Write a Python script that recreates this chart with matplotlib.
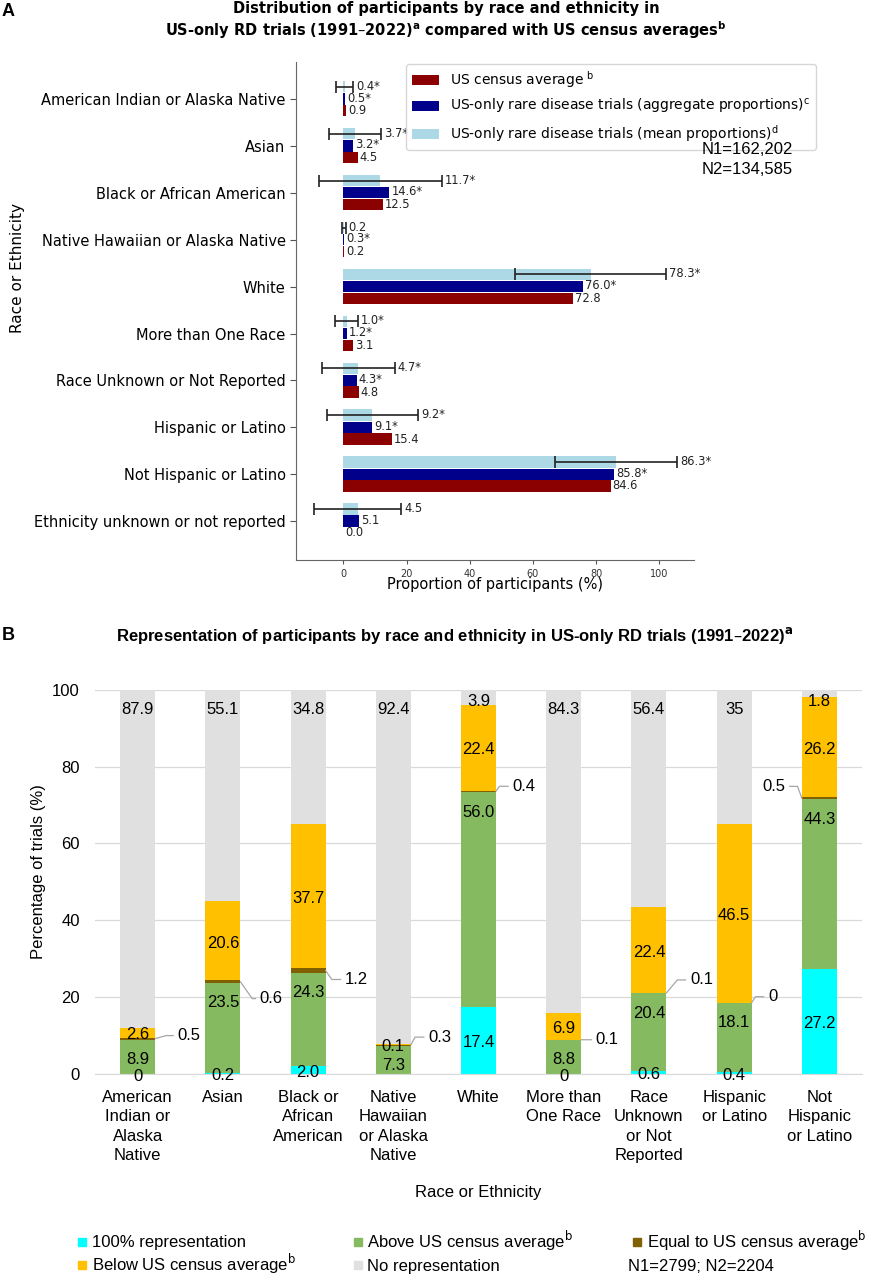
import matplotlib
matplotlib.use("Agg")
from matplotlib import pyplot as plt
from matplotlib.patches import Rectangle
import numpy as np

# ---- panel A data ----
groups_a = ["American Indian or Alaska Native", "Asian", "Black or African American",
            "Native Hawaiian or Alaska Native", "White", "More than One Race",
            "Race Unknown or Not Reported", "Hispanic or Latino",
            "Not Hispanic or Latino", "Ethnicity unknown or not reported"]
census = [0.9, 4.5, 12.5, 0.2, 72.8, 3.1, 4.8, 15.4, 84.6, 0.0]
aggregate = [0.5, 3.2, 14.6, 0.3, 76.0, 1.2, 4.3, 9.1, 85.8, 5.1]
mean_prop = [0.4, 3.7, 11.7, 0.2, 78.3, 1.0, 4.7, 9.2, 86.3, 4.5]
mean_sd = [2.7, 8.2, 19.5, 0.5, 23.9, 3.7, 11.5, 14.4, 19.3, 13.8]
aggregate_sig = [1, 1, 1, 1, 1, 1, 1, 1, 1, 0]
mean_sig = [1, 1, 1, 0, 1, 1, 1, 1, 1, 0]

# ---- panel B data ----
groups_b = ["American\nIndian or\nAlaska\nNative", "Asian", "Black or\nAfrican\nAmerican",
            "Native\nHawaiian\nor Alaska\nNative", "White", "More than\nOne Race",
            "Race\nUnknown\nor Not\nReported", "Hispanic\nor Latino", "Not\nHispanic\nor Latino"]
full_rep = [0, 0.2, 2.0, 0, 17.4, 0, 0.6, 0.4, 27.2]
above = [8.9, 23.5, 24.3, 7.3, 56.0, 8.8, 20.4, 18.1, 44.3]
equal = [0.5, 0.6, 1.2, 0.3, 0.4, 0.1, 0.1, 0, 0.5]
below = [2.6, 20.6, 37.7, 0.1, 22.4, 6.9, 22.4, 46.5, 26.2]
no_rep = [87.9, 55.1, 34.8, 92.4, 3.9, 84.3, 56.4, 35, 1.8]
full_lbl = ["0", "0.2", "2.0", "", "17.4", "0", "0.6", "0.4", "27.2"]
above_lbl = ["8.9", "23.5", "24.3", "7.3", "56.0", "8.8", "20.4", "18.1", "44.3"]
equal_lbl = ["0.5", "0.6", "1.2", "0.3", "0.4", "0.1", "0.1", "0", "0.5"]
below_lbl = ["2.6", "20.6", "37.7", "0.1", "22.4", "6.9", "22.4", "46.5", "26.2"]
norep_lbl = ["87.9", "55.1", "34.8", "92.4", "3.9", "84.3", "56.4", "35", "1.8"]

# leader line placement for the "equal" labels (pixels from bar edge, angle of diagonal)
equal_offsets = [(34, 3), (31, -17), (31, -9), (29, 8), (28, 5), (26, 0), (35, 13), (21, 6), (-28, 12)]
leader_angles = [15, -55, -55, 62, 55, None, 50, 58, 110]

W, H = 870, 1280
ARIAL = "Liberation Sans"

fig = plt.figure(figsize=(8.7, 12.8), dpi=100)


def fx(px):
    return px / W


def fy(py):
    return 1 - py / H


# =================== panel A ===================
ax = fig.add_axes([fx(296), fy(560), fx(694) - fx(296), fy(62) - fy(560)])
ypos = np.arange(len(groups_a))
h = 0.24

b_light = ax.barh(ypos - 0.26, mean_prop, height=h, color="#ADD8E6",
                  xerr=mean_sd, error_kw=dict(ecolor="#222222", elinewidth=1.2,
                                              capsize=4.5, capthick=1.2))
b_navy = ax.barh(ypos, aggregate, height=h, color="#00008B")
b_red = ax.barh(ypos + 0.25, census, height=h, color="#8B0000")

for i in range(len(groups_a)):
    ax.text(mean_prop[i] + mean_sd[i] + 0.9, ypos[i] - 0.27,
            f"{mean_prop[i]:.1f}" + ("*" if mean_sig[i] else ""),
            va="center", ha="left", fontsize=8.3, color="#222222")
    ax.text(aggregate[i] + 0.6, ypos[i] - 0.02,
            f"{aggregate[i]:.1f}" + ("*" if aggregate_sig[i] else ""),
            va="center", ha="left", fontsize=8.3, color="#222222")
    ax.text(census[i] + 0.6, ypos[i] + 0.25, f"{census[i]:.1f}",
            va="center", ha="left", fontsize=8.3, color="#222222")

ax.set_xlim(-15, 111)
ax.set_ylim(9.83, -0.79)
ax.set_yticks(ypos, groups_a, fontsize=10.5)
ax.set_xticks([0, 20, 40, 60, 80, 100])
ax.tick_params(axis="x", labelsize=7, length=3, color="#555555", labelcolor="#333333")
ax.tick_params(axis="y", length=4, color="#555555")
for s in ["top", "right"]:
    ax.spines[s].set_visible(False)
for s in ["left", "bottom"]:
    ax.spines[s].set_color("#666666")

ax.legend(handles=[b_red, b_navy, b_light],
          labels=[r"US census average$^{\ \mathrm{b}}$",
                  r"US-only rare disease trials (aggregate proportions)$^{\mathrm{c}}$",
                  r"US-only rare disease trials (mean proportions)$^{\mathrm{d}}$"],
          loc="upper left", bbox_to_anchor=(fx(406), fy(64)),
          bbox_transform=fig.transFigure, fontsize=10, borderaxespad=0)

fig.text(fx(702), fy(150), "N1=162,202", fontsize=12, family=ARIAL, va="center")
fig.text(fx(702), fy(170), "N2=134,585", fontsize=12, family=ARIAL, va="center")

fig.text(fx(17.5), fy(268), "Race or Ethnicity", rotation=90, fontsize=11,
         va="center", ha="center")
fig.text(fx(495), fy(585), "Proportion of participants (%)", fontsize=10.5,
         va="center", ha="center")
fig.text(fx(446), fy(1), "Distribution of participants by race and ethnicity in\n"
         r"US-only RD trials (1991–2022)$^{\mathbf{a}}$ compared with US census averages$^{\mathbf{b}}$",
         fontsize=10.5, weight="bold", ha="center", va="top")
fig.text(fx(2), fy(12), "A", fontsize=13, weight="bold", family=ARIAL, va="center")

# =================== panel B ===================
axb = fig.add_axes([fx(95), fy(1073.7), fx(862) - fx(95), fy(690) - fy(1073.7)])
xb = np.arange(len(groups_b))
bw = 0.41
seg_colors = ["#00FFFF", "#86BA61", "#806000", "#FFC000", "#E0E0E0"]
series = [full_rep, above, equal, below, no_rep]
bottom = np.zeros(len(groups_b))
for vals, col in zip(series, seg_colors):
    axb.bar(xb, vals, width=bw, bottom=bottom, color=col, zorder=2)
    bottom = bottom + np.array(vals)

fs = 12
for i in range(len(groups_b)):
    c0 = full_rep[i] / 2
    top_above = full_rep[i] + above[i]
    b0 = top_above + equal[i]
    if full_lbl[i]:
        axb.text(xb[i], c0 - 0.6, full_lbl[i], ha="center", va="center",
                 fontsize=fs, family=ARIAL, zorder=3)
    axb.text(xb[i], top_above - 5.2, above_lbl[i], ha="center", va="center",
             fontsize=fs, family=ARIAL, zorder=3)
    axb.text(xb[i], b0 + below[i] / 2 - 0.6, below_lbl[i], ha="center", va="center",
             fontsize=fs, family=ARIAL, zorder=3)
    gy = 97 if no_rep[i] < 5 else 94.8
    axb.text(xb[i], gy, norep_lbl[i], ha="center", va="center",
             fontsize=fs, family=ARIAL, zorder=3)
    # equal-to-census label with leader line
    dx, dy = equal_offsets[i]
    edge = xb[i] + bw / 2 if dx > 0 else xb[i] - bw / 2
    ang = leader_angles[i]
    if ang is None:
        cs = "arc3"
    else:
        cs = f"angle,angleA=0,angleB={ang},rad=0"
    axb.annotate(equal_lbl[i], xy=(edge, top_above + equal[i] / 2),
                 xytext=(dx, dy), textcoords="offset pixels",
                 ha="center", va="center", fontsize=fs, family=ARIAL,
                 arrowprops=dict(arrowstyle="-", color="#A6A6A6", lw=0.9,
                                 connectionstyle=cs, shrinkA=1, shrinkB=0),
                 zorder=3)

axb.set_xlim(-0.5, 8.5)
axb.set_ylim(0, 100)
axb.set_yticks([0, 20, 40, 60, 80, 100])
axb.set_xticks(xb)
axb.set_xticklabels(groups_b, fontsize=12, family=ARIAL, linespacing=1.37)
for lab in axb.get_yticklabels():
    lab.set_fontsize(12)
    lab.set_family(ARIAL)
axb.tick_params(axis="x", length=0, pad=11.5)
axb.tick_params(axis="y", length=0, pad=11)
axb.grid(axis="y", color="#D9D9D9", lw=0.9, zorder=0)
for s in ["top", "right", "left"]:
    axb.spines[s].set_visible(False)
axb.spines["bottom"].set_color("#D9D9D9")

fig.text(fx(38.3), fy(872), "Percentage of trials (%)", rotation=90, fontsize=12,
         family=ARIAL, ha="center", va="center")
fig.text(fx(478), fy(1192.7), "Race or Ethnicity", fontsize=12, family=ARIAL,
         ha="center", va="center")
fig.text(fx(455), fy(636), "Representation of participants by race and ethnicity in "
         r"US-only RD trials (1991–2022)$^{\mathbf{a}}$",
         fontsize=12, weight="bold", family=ARIAL, ha="center", va="center")
fig.text(fx(2), fy(635), "B", fontsize=13, weight="bold", family=ARIAL, va="center")

# legend for panel B, drawn by hand
leg_items = [("100% representation", seg_colors[0], 78.3, 1241.7),
             (r"Above US census average$^{\mathrm{b}}$", seg_colors[1], 354, 1241.7),
             (r"Equal to US census average$^{\mathrm{b}}$", seg_colors[2], 633.3, 1241.7),
             (r"Below US census average$^{\mathrm{b}}$", seg_colors[3], 78.3, 1265),
             ("No representation", seg_colors[4], 354, 1265)]
for txt, col, mx, my in leg_items:
    fig.patches.append(Rectangle((fx(mx), fy(my + 3.9)), fx(7.7), 7.7 / H, color=col,
                                 transform=fig.transFigure, figure=fig))
    fig.text(fx(mx + 13.4), fy(my + 5.8), txt, fontsize=12, family=ARIAL, va="baseline")
fig.text(fx(628.3), fy(1265 + 5.8), "N1=2799; N2=2204", fontsize=12, family=ARIAL,
         va="baseline")

fig.savefig("out.png", dpi=100)
